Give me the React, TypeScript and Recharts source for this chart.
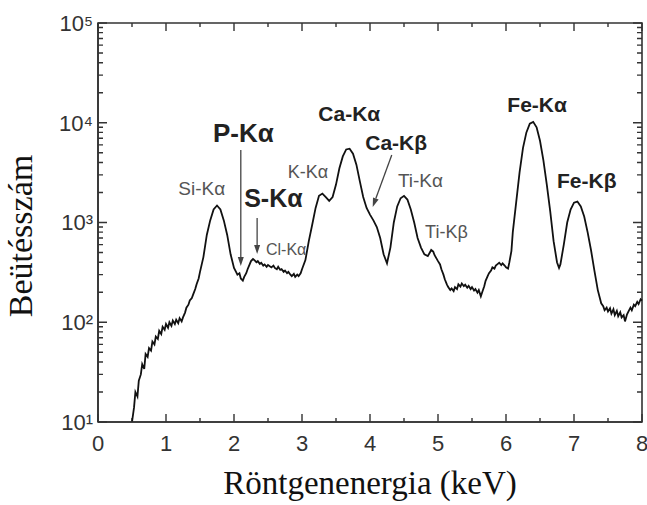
import { LineChart, Line, XAxis, YAxis, ReferenceDot, ReferenceLine, ReferenceArea } from 'recharts';

// X-ray energy (keV) and detector counts
const energyKeV = [
  0.5, 0.53, 0.55, 0.58, 0.6, 0.63, 0.65, 0.68, 0.7, 0.73,
  0.75, 0.78, 0.8, 0.83, 0.85, 0.88, 0.9, 0.93, 0.95, 0.98,
  1.0, 1.03, 1.05, 1.08, 1.1, 1.13, 1.15, 1.18, 1.2, 1.23,
  1.25, 1.28, 1.3, 1.33, 1.35, 1.38, 1.4, 1.43, 1.45, 1.48,
  1.5, 1.55, 1.6, 1.65, 1.7, 1.75, 1.8, 1.85, 1.9, 1.95,
  2.0, 2.03, 2.05, 2.08, 2.1, 2.13, 2.15, 2.18, 2.2, 2.23,
  2.25, 2.28, 2.3, 2.33, 2.35, 2.38, 2.4, 2.43, 2.45, 2.48,
  2.5, 2.55, 2.58, 2.6, 2.63, 2.65, 2.68, 2.7, 2.73, 2.75,
  2.78, 2.8, 2.83, 2.85, 2.88, 2.9, 2.93, 2.95, 2.98, 3.0,
  3.05, 3.1, 3.15, 3.2, 3.25, 3.3, 3.35, 3.4, 3.45, 3.5,
  3.55, 3.6, 3.65, 3.7, 3.75, 3.8, 3.85, 3.9, 3.95, 4.0,
  4.05, 4.1, 4.15, 4.2, 4.25, 4.3, 4.35, 4.4, 4.45, 4.5,
  4.55, 4.6, 4.65, 4.7, 4.75, 4.8, 4.85, 4.88, 4.9, 4.93,
  4.95, 5.0, 5.03, 5.05, 5.08, 5.1, 5.13, 5.15, 5.18, 5.2,
  5.23, 5.25, 5.28, 5.3, 5.33, 5.35, 5.38, 5.4, 5.43, 5.45,
  5.48, 5.5, 5.53, 5.55, 5.58, 5.6, 5.63, 5.65, 5.68, 5.7,
  5.73, 5.75, 5.78, 5.8, 5.83, 5.85, 5.88, 5.9, 5.93, 5.95,
  5.98, 6.0, 6.03, 6.05, 6.08, 6.1, 6.15, 6.2, 6.25, 6.3,
  6.35, 6.4, 6.45, 6.5, 6.55, 6.6, 6.65, 6.7, 6.75, 6.78,
  6.8, 6.85, 6.9, 6.95, 7.0, 7.05, 7.1, 7.15, 7.2, 7.25,
  7.3, 7.35, 7.38, 7.4, 7.43, 7.45, 7.48, 7.5, 7.53, 7.55,
  7.58, 7.6, 7.63, 7.65, 7.68, 7.7, 7.73, 7.75, 7.78, 7.8,
  7.83, 7.85, 7.88, 7.9, 7.93, 7.95, 7.98, 8.0,
];

const counts = [
  10, 14, 20, 18, 26, 30, 38, 34, 48, 45,
  55, 52, 64, 60, 72, 68, 82, 76, 90, 84,
  96, 88, 100, 92, 104, 96, 106, 98, 110, 102,
  112, 125, 140, 150, 165, 175, 190, 215, 240, 275,
  320, 450, 750, 1050, 1350, 1480, 1350, 1050, 750, 480,
  350, 320, 300, 310, 275, 262, 285, 310, 340, 380,
  410, 430, 420, 400, 410, 385, 395, 370, 380, 360,
  375, 355, 370, 350, 340, 360, 335, 340, 320, 330,
  310, 320, 300, 290, 305, 285, 300, 290, 310, 340,
  420, 650, 950, 1400, 1850, 1950, 1800, 1650, 1800, 2400,
  3500, 4600, 5400, 5500, 4900, 3800, 2600, 1800, 1400, 1200,
  1050, 900, 700, 480, 390, 560, 1000, 1450, 1750, 1850,
  1700, 1350, 1000, 700, 560, 480, 460, 500, 530, 510,
  470, 410, 380, 340, 300, 270, 240, 225, 210, 218,
  205, 225, 215, 240, 228, 245, 230, 238, 222, 232,
  215, 225, 208, 215, 198, 210, 182, 200, 230, 260,
  290, 310, 330, 355, 345, 370, 385, 395, 375, 390,
  370, 355, 345, 400, 520, 800, 1600, 3200, 5600, 8000,
  9800, 10200, 9000, 6600, 4200, 2400, 1300, 650, 400, 350,
  380, 600, 1000, 1350, 1580, 1620, 1450, 1150, 800, 530,
  330, 210, 175, 155, 145, 132, 140, 128, 138, 122,
  135, 118, 130, 115, 126, 112, 118, 102, 120, 128,
  140, 132, 150, 145, 160, 152, 170, 165,
];

const xTicks = [0, 0.5, 1, 1.5, 2, 2.5, 3, 3.5, 4, 4.5, 5, 5.5, 6, 6.5, 7, 7.5, 8];
const decades = [10, 100, 1000, 10000, 100000];
const decadeLabels = ['10¹', '10²', '10³', '10⁴', '10⁵'];
const yTicks = [
  10, 20, 30, 40, 50, 60, 70, 80, 90,
  100, 200, 300, 400, 500, 600, 700, 800, 900,
  1000, 2000, 3000, 4000, 5000, 6000, 7000, 8000, 9000,
  10000, 20000, 30000, 40000, 50000, 60000, 70000, 80000, 90000,
  100000,
];

// peak labels: energy / counts where the text starts
const peakLabels = [
  { text: 'Si-Kα', e: 1.18, c: 1890, bold: false, size: 19 },
  { text: 'P-Kα', e: 1.69, c: 6400, bold: true, size: 26 },
  { text: 'S-Kα', e: 2.15, c: 1430, bold: true, size: 25 },
  { text: 'Cl-Kα', e: 2.47, c: 470, bold: false, size: 16 },
  { text: 'K-Kα', e: 2.79, c: 2790, bold: false, size: 18 },
  { text: 'Ca-Kα', e: 3.24, c: 10400, bold: true, size: 21 },
  { text: 'Ca-Kβ', e: 3.93, c: 5330, bold: true, size: 21 },
  { text: 'Ti-Kα', e: 4.41, c: 2270, bold: false, size: 19 },
  { text: 'Ti-Kβ', e: 4.81, c: 700, bold: false, size: 18 },
  { text: 'Fe-Kα', e: 6.02, c: 12800, bold: true, size: 21 },
  { text: 'Fe-Kβ', e: 6.75, c: 2220, bold: true, size: 21 },
];

const arrows = [
  { from: { x: 2.1, y: 5330 }, to: { x: 2.1, y: 366 } },
  { from: { x: 2.34, y: 1110 }, to: { x: 2.34, y: 483 } },
  { from: { x: 4.32, y: 4750 }, to: { x: 4.04, y: 1430 } },
];

const data = energyKeV.map((e, i) => ({ e, c: counts[i] }));

const sans = '"Liberation Sans", Arial, sans-serif';
const serif = '"Liberation Serif", "Times New Roman", serif';
const ink = '#333';

const isDecade = (v: number) => decades.includes(v);

function Arrow({ x1, y1, x2, y2 }: any) {
  const len = Math.hypot(x2 - x1, y2 - y1);
  const ux = (x2 - x1) / len;
  const uy = (y2 - y1) / len;
  const bx = x2 - ux * 9;
  const by = y2 - uy * 9;
  return (
    <g>
      <line x1={x1} y1={y1} x2={bx} y2={by} stroke="#444" strokeWidth={1.3} />
      <polygon
        points={`${x2},${y2} ${bx - uy * 3},${by + ux * 3} ${bx + uy * 3},${by - ux * 3}`}
        fill="#444"
      />
    </g>
  );
}

// a zero-width (or zero-height) area across the plot; only short inward marks at its two ends are drawn
const vTickShape = (len: number) => (p: any) => {
  const x = Number(p.x);
  const top = Number(p.y);
  const bottom = top + Number(p.height);
  return <path d={`M${x},${bottom}L${x},${bottom - len}M${x},${top}L${x},${top + len}`} stroke={ink} strokeWidth={1.4} fill="none" />;
};

const hTickShape = (len: number) => (p: any) => {
  const y = Number(p.y);
  const left = Number(p.x);
  const right = left + Number(p.width);
  return <path d={`M${left},${y}L${left + len},${y}M${right},${y}L${right - len},${y}`} stroke={ink} strokeWidth={1.4} fill="none" />;
};

export default function App() {
  return (
    <div style={{ position: 'absolute', left: 0, top: 0, width: 647, height: 505, background: '#fff' }}>
      <LineChart width={647} height={505} data={data} margin={{ top: 23, right: 5, bottom: 0, left: 0 }}>
        <XAxis
          xAxisId="bottom"
          dataKey="e"
          type="number"
          domain={[0, 8]}
          ticks={xTicks}
          interval={0}
          height={83}
          tickSize={6}
          tickMargin={7}
          tickLine={{ stroke: 'none' }}
          axisLine={{ stroke: ink, strokeWidth: 1.6 }}
          tick={{ fontFamily: sans, fontSize: 22, fill: ink }}
          tickFormatter={(v: number) => (Number.isInteger(v) ? String(v) : '')}
        />
        <YAxis
          yAxisId="left"
          scale="log"
          type="number"
          domain={[10, 100000]}
          ticks={yTicks}
          interval={0}
          allowDataOverflow
          width={98}
          tickSize={4}
          tickMargin={1}
          tickLine={{ stroke: 'none' }}
          axisLine={{ stroke: ink, strokeWidth: 1.6 }}
          tick={{ fontFamily: sans, fontSize: 22, fill: ink }}
          tickFormatter={(v: number) => (isDecade(v) ? decadeLabels[decades.indexOf(v)] : '')}
        />
        <ReferenceArea
          xAxisId="bottom"
          yAxisId="left"
          x1={0}
          x2={8}
          y1={10}
          y2={100000}
          fill="none"
          fillOpacity={0}
          stroke={ink}
          strokeWidth={1.6}
          ifOverflow="visible"
        />
        {xTicks.map((t) => (
          <ReferenceArea
            key={`xt-${t}`}
            xAxisId="bottom"
            yAxisId="left"
            x1={t}
            x2={t}
            y1={10}
            y2={100000}
            ifOverflow="visible"
            shape={vTickShape(Number.isInteger(t) ? 8 : 4)}
          />
        ))}
        {yTicks.map((t) => (
          <ReferenceArea
            key={`yt-${t}`}
            xAxisId="bottom"
            yAxisId="left"
            x1={0}
            x2={8}
            y1={t}
            y2={t}
            ifOverflow="visible"
            shape={hTickShape(isDecade(t) ? 9 : 5)}
          />
        ))}
        <Line
          xAxisId="bottom"
          yAxisId="left"
          dataKey="c"
          stroke="#111"
          strokeWidth={1.8}
          dot={false}
          isAnimationActive={false}
        />
        {arrows.map((a, i) => (
          <ReferenceLine
            key={`arrow-${i}`}
            xAxisId="bottom"
            yAxisId="left"
            segment={[a.from, a.to]}
            shape={(p: any) => <Arrow {...p} />}
          />
        ))}
        {peakLabels.map((l) => (
          <ReferenceDot
            key={l.text}
            xAxisId="bottom"
            yAxisId="left"
            x={l.e}
            y={l.c}
            r={0}
            shape={(p: any) => (
              <text
                x={p.cx}
                y={p.cy}
                fontFamily={sans}
                fontSize={l.size}
                fontWeight={l.bold ? 'bold' : 'normal'}
                fill={l.bold ? '#222' : '#555'}
              >
                {l.text}
              </text>
            )}
          />
        ))}
      </LineChart>
      {/* axis titles */}
      <div
        style={{
          position: 'absolute', left: 98, top: 467, width: 544, height: 33, lineHeight: '33px',
          textAlign: 'center', fontFamily: serif, fontSize: 33, color: '#111', whiteSpace: 'nowrap',
        }}
      >
        Röntgenenergia (keV)
      </div>
      <div
        style={{
          position: 'absolute', left: -179, top: 219, width: 400, height: 34, lineHeight: '34px',
          textAlign: 'center', fontFamily: serif, fontSize: 34, color: '#111', whiteSpace: 'nowrap',
          transform: 'rotate(-90deg)',
        }}
      >
        Beütésszám
      </div>
    </div>
  );
}
